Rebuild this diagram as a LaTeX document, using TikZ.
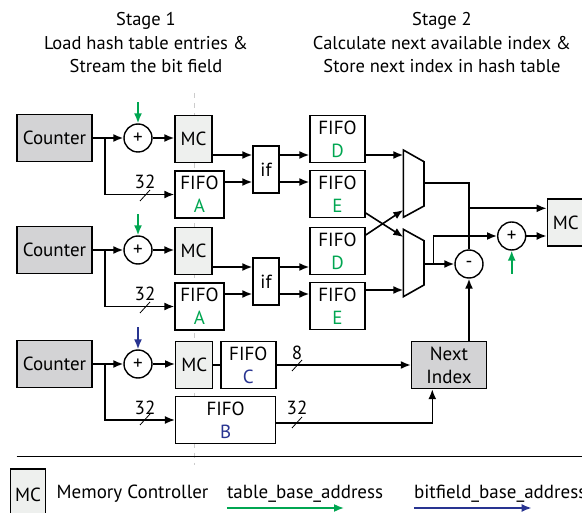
\documentclass[tikz,border=0pt]{standalone}
\usepackage{fontspec}
\setmainfont{PT Sans}
\usepackage{tikz}
\usetikzlibrary{arrows.meta,calc}
\definecolor{tblgreen}{RGB}{0,166,81}
\definecolor{bfblue}{RGB}{40,52,145}
\definecolor{ctrgray}{RGB}{211,211,213}
\definecolor{mcgray}{RGB}{238,240,238}
\newcommand{\blockfont}{\fontsize{19}{23}\selectfont}
\newcommand{\headfont}{\fontsize{18.5}{23.5}\selectfont}
\begin{document}
\begin{tikzpicture}[x=1pt,y=-1pt,>={Latex[length=10pt,width=8pt]},
  every node/.style={font=\blockfont},
  blk/.style={draw,line width=1.4pt,inner sep=0pt,align=center},
  ctr/.style={blk,fill=ctrgray,minimum width=75pt,minimum height=47pt},
  mc/.style={blk,fill=mcgray,minimum width=37pt,minimum height=47pt},
  fifo/.style={blk,fill=white,minimum width=55pt,minimum height=47pt},
  sum/.style={draw,circle,line width=1.4pt,fill=white,minimum size=28pt,inner sep=0pt},
  wire/.style={line width=1.6pt},
  bus/.style={line width=0.8pt}]
\useasboundingbox (0,0) rectangle (582,513);
\draw[gray!40,line width=1.2pt,dash pattern=on 5pt off 5pt] (194.5,93) -- (194.5,465);
\node[font=\headfont,align=center] (st1) at (146,43) {Stage 1\\Load hash table entries \&\\Stream the bit field};
\node[font=\headfont,align=center] (st2) at (442,43) {Stage 2\\Calculate next available index \&\\Store next index in hash table};
\foreach \n/\r in {1/138,2/250}{
  \node[ctr] (cnt\n) at (54.5,\r) {Counter};
  \node[sum] (add\n) at (138,\r) {+};
  \node[mc] (mc\n) at (193.5,\r+1) {MC};
  \node[fifo,minimum width=49pt] (fa\n) at (199.5,\r+56.5) {FIFO\\\textcolor{tblgreen}{A}};
  \node[blk,minimum width=26pt,minimum height=47pt] (if\n) at (266,\r+31.5) {if};
  \node[fifo] (fd\n) at (337.5,\r+1) {FIFO\\\textcolor{tblgreen}{D}};
  \node[fifo] (fe\n) at (337.5,\r+56) {FIFO\\\textcolor{tblgreen}{E}};
  \draw[wire,tblgreen,->] ($(add\n.north)+(0,-21)$) -- (add\n.north);
  \draw[wire,->] (cnt\n) -- (add\n);
  \draw[wire,->] (add\n) -- (mc\n.west |- add\n);
  \draw[wire,->] (cnt\n.east) ++(12,0) |- (fa\n.west);
  \draw[bus] (140,\r+63) -- (150,\r+52);
  \node (wa\n) at (145,\r+44) {32};
  \draw[wire,->] ($(mc\n.east)+(0,16)$) -- ($(if\n.west)+(0,-14.5)$);
  \draw[wire,->] ($(fa\n.east)+(0,-12.5)$) -- ($(if\n.west)+(0,12.5)$);
  \draw[wire,->] ($(if\n.east)+(0,-14.5)$) -- ($(fd\n.west)+(0,16)$);
  \draw[wire,->] ($(if\n.east)+(0,12.5)$) -- ($(fe\n.west)+(0,-12)$);
}
% multiplexers
\draw[wire] (403.3,150) -- (424,161.7) -- (424,206) -- (403.3,217.3) -- cycle;
\draw[wire] (403.3,229.3) -- (424,240.7) -- (424,285) -- (403.3,296.7) -- cycle;
\coordinate (m1a) at (403.3,155); \coordinate (m1b) at (403.3,210);
\coordinate (m2a) at (403.3,237); \coordinate (m2b) at (403.3,290);
\coordinate (m1o) at (424,183); \coordinate (m2o) at (424,264);
\draw[wire,->] (fd1.east |- m1a) -- (m1a);
\draw[wire,->] ($(fd2.east)+(0,-16)$) -- (m1b);
\draw[wire,->] ($(fe1.east)+(0,19)$) -- (m2a);
\draw[wire,->] (fe2.east |- m2b) -- (m2b);
\node[sum] (sub) at (469,264) {-};
\node[sum] (addst) at (511.7,236) {+};
\node[mc] (mcout) at (565.8,222.5) {MC};
\node[ctr] (nxt) at (449,365) {Next\\Index};
\coordinate (tap) at (469,208.3);
\coordinate (tap2) at (433.3,264);
\draw[wire] (m1o) -| (sub.north);
\draw[wire,->] (tap) -- (tap -| mcout.west);
\draw[wire,->] (m2o) -- (sub.west);
\draw[wire,->] (tap2) |- (addst.west);
\draw[wire,->] (addst) -- (mcout.west |- addst);
\draw[wire,tblgreen,->] ($(addst.south)+(0,23)$) -- (addst.south);
\draw[wire,->] (nxt.north -| sub) -- (sub.south);
% third row
\node[ctr] (cnt3) at (54.5,364) {Counter};
\node[sum] (add3) at (138,364) {+};
\node[mc] (mc3) at (194.2,365) {MC};
\node[fifo] (fc) at (248.3,365) {FIFO\\\textcolor{bfblue}{C}};
\node[fifo,minimum width=100pt] (fb) at (225.6,420) {FIFO\\\textcolor{bfblue}{B}};
\draw[wire,bfblue,->] ($(add3.north)+(0,-22)$) -- (add3.north);
\draw[wire,->] (cnt3) -- (add3);
\draw[wire,->] (add3) -- (mc3.west |- add3);
\draw[wire] (mc3) -- (fc);
\draw[wire,->] (fc) -- (nxt);
\draw[wire,->] (cnt3.east) ++(12,0) |- (fb.west);
\draw[wire,->] ($(fb.east)+(0,3)$) -| ($(nxt.south)+(-16.7,0)$);
\draw[bus] (140,425) -- (150,414);
\node (wb) at (145,408) {32};
\draw[bus] (292,371) -- (302,360);
\node (wc) at (297,353) {8};
\draw[bus] (292,428) -- (302,417);
\node (wd) at (297,408) {32};
% legend
\draw[line width=1.4pt] (16.7,456.7) -- (582,456.7);
\node[mc,minimum width=35pt,minimum height=51pt] (lgmc) at (28,494.5) {MC};
\node[anchor=west,inner sep=0pt] (lgtxt) at (56.5,494) {Memory Controller};
\node[anchor=west,inner sep=0pt] (lgtba) at (226.8,494) {table\_base\_address};
\node[anchor=west,inner sep=0pt] (lgbfa) at (413.8,494) {bitfield\_base\_address};
\draw[wire,tblgreen,->] (226.8,508) -- (344,508);
\draw[wire,bfblue,->] (413.8,508) -- (531.6,508);
\end{tikzpicture}
\end{document}
